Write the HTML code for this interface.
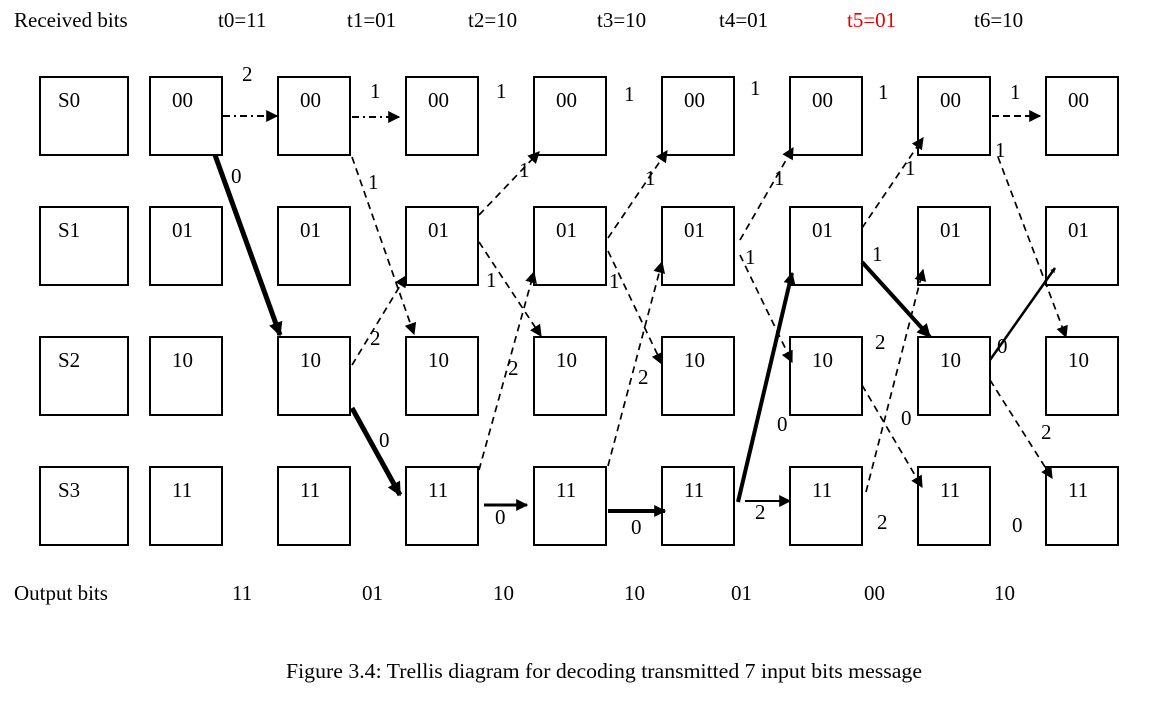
<!DOCTYPE html>
<html><head><meta charset="utf-8"><style>
html,body{margin:0;padding:0;background:#fff;}
svg{display:block;font-family:"Liberation Serif",serif;}
text{font-size:21px;fill:#000;}
</style></head><body>
<svg width="1167" height="723" viewBox="0 0 1167 723" xmlns="http://www.w3.org/2000/svg">
<defs>
<marker id="a" viewBox="0 0 10 10" refX="9" refY="5" markerWidth="5" markerHeight="5" orient="auto" markerUnits="userSpaceOnUse"><path d="M0,0L10,5L0,10z" fill="#000"/></marker>
<marker id="ab" viewBox="0 0 10 10" refX="9" refY="5" markerWidth="14" markerHeight="14" orient="auto" markerUnits="userSpaceOnUse"><path d="M0,0L10,5L0,10z" fill="#000"/></marker>
<marker id="am" viewBox="0 0 10 10" refX="9" refY="5" markerWidth="12" markerHeight="12" orient="auto" markerUnits="userSpaceOnUse"><path d="M0,0L10,5L0,10z" fill="#000"/></marker>
</defs>
<text x="14" y="27">Received bits</text>
<text x="218" y="27">t0=11</text>
<text x="347" y="27">t1=01</text>
<text x="468" y="27">t2=10</text>
<text x="597" y="27">t3=10</text>
<text x="719" y="27">t4=01</text>
<text x="847" y="27" style="fill:#e00">t5=01</text>
<text x="974" y="27">t6=10</text>

<g fill="none" stroke="#000" stroke-width="2">
<rect x="40" y="77" width="88" height="78"/><rect x="40" y="207" width="88" height="78"/><rect x="40" y="337" width="88" height="78"/><rect x="40" y="467" width="88" height="78"/>
</g>
<text x="58" y="107">S0</text><text x="58" y="237">S1</text><text x="58" y="367">S2</text><text x="58" y="497">S3</text>

<g fill="none" stroke="#000" stroke-width="2">
<rect x="150" y="77" width="72" height="78"/><rect x="150" y="207" width="72" height="78"/><rect x="150" y="337" width="72" height="78"/><rect x="150" y="467" width="72" height="78"/>
<rect x="278" y="77" width="72" height="78"/><rect x="278" y="207" width="72" height="78"/><rect x="278" y="337" width="72" height="78"/><rect x="278" y="467" width="72" height="78"/>
<rect x="406" y="77" width="72" height="78"/><rect x="406" y="207" width="72" height="78"/><rect x="406" y="337" width="72" height="78"/><rect x="406" y="467" width="72" height="78"/>
<rect x="534" y="77" width="72" height="78"/><rect x="534" y="207" width="72" height="78"/><rect x="534" y="337" width="72" height="78"/><rect x="534" y="467" width="72" height="78"/>
<rect x="662" y="77" width="72" height="78"/><rect x="662" y="207" width="72" height="78"/><rect x="662" y="337" width="72" height="78"/><rect x="662" y="467" width="72" height="78"/>
<rect x="790" y="77" width="72" height="78"/><rect x="790" y="207" width="72" height="78"/><rect x="790" y="337" width="72" height="78"/><rect x="790" y="467" width="72" height="78"/>
<rect x="918" y="77" width="72" height="78"/><rect x="918" y="207" width="72" height="78"/><rect x="918" y="337" width="72" height="78"/><rect x="918" y="467" width="72" height="78"/>
<rect x="1046" y="77" width="72" height="78"/><rect x="1046" y="207" width="72" height="78"/><rect x="1046" y="337" width="72" height="78"/><rect x="1046" y="467" width="72" height="78"/>
</g>
<g>
<text x="172" y="107">00</text><text x="172" y="237">01</text><text x="172" y="367">10</text><text x="172" y="497">11</text>
<text x="300" y="107">00</text><text x="300" y="237">01</text><text x="300" y="367">10</text><text x="300" y="497">11</text>
<text x="428" y="107">00</text><text x="428" y="237">01</text><text x="428" y="367">10</text><text x="428" y="497">11</text>
<text x="556" y="107">00</text><text x="556" y="237">01</text><text x="556" y="367">10</text><text x="556" y="497">11</text>
<text x="684" y="107">00</text><text x="684" y="237">01</text><text x="684" y="367">10</text><text x="684" y="497">11</text>
<text x="812" y="107">00</text><text x="812" y="237">01</text><text x="812" y="367">10</text><text x="812" y="497">11</text>
<text x="940" y="107">00</text><text x="940" y="237">01</text><text x="940" y="367">10</text><text x="940" y="497">11</text>
<text x="1068" y="107">00</text><text x="1068" y="237">01</text><text x="1068" y="367">10</text><text x="1068" y="497">11</text>
</g>

<g stroke="#000" stroke-width="2" fill="none">
<line x1="223" y1="116" x2="277" y2="116" stroke-dasharray="7,4,2,4" marker-end="url(#am)"/>
<line x1="352" y1="117" x2="399" y2="117" stroke-dasharray="7,4,2,4" marker-end="url(#am)"/>
<line x1="992" y1="116" x2="1040" y2="116" stroke-dasharray="7,4" marker-end="url(#am)"/>
</g>
<g stroke="#000" stroke-width="1.7" fill="none" stroke-dasharray="7,5" marker-end="url(#am)">
<line x1="352" y1="157" x2="414" y2="334"/>
<line x1="352" y1="365" x2="406" y2="276"/>
<line x1="479" y1="215" x2="539" y2="152"/>
<line x1="479" y1="242" x2="541" y2="336"/>
<line x1="479" y1="470" x2="534" y2="272"/>
<line x1="608" y1="238" x2="667" y2="151"/>
<line x1="608" y1="251" x2="662" y2="364"/>
<line x1="608" y1="466" x2="662" y2="262"/>
<line x1="740" y1="240" x2="793" y2="148"/>
<line x1="740" y1="255" x2="792" y2="362"/>
<line x1="862" y1="228" x2="923" y2="138"/>
<line x1="866" y1="492" x2="923" y2="270"/>
<line x1="862" y1="385" x2="922" y2="487"/>
<line x1="998" y1="157" x2="1066" y2="337"/>
<line x1="990" y1="380" x2="1052" y2="478"/>
</g>
<g stroke="#000" fill="none">
<line x1="215" y1="155" x2="280" y2="335" stroke-width="5" marker-end="url(#ab)"/>
<line x1="352" y1="408" x2="400" y2="495" stroke-width="5" marker-end="url(#ab)"/>
<line x1="484" y1="505" x2="527" y2="505" stroke-width="3" marker-end="url(#am)"/>
<line x1="608" y1="511" x2="665" y2="511" stroke-width="4" marker-end="url(#am)"/>
<line x1="738" y1="502" x2="792" y2="273" stroke-width="4" marker-end="url(#am)"/>
<line x1="745" y1="501" x2="790" y2="501" stroke-width="2" marker-end="url(#am)"/>
<line x1="862" y1="262" x2="930" y2="337" stroke-width="4" marker-end="url(#ab)"/>
<line x1="990" y1="360" x2="1055" y2="268" stroke-width="2.5" marker-end="url(#a)"/>
</g>

<g>
<text x="242" y="81">2</text><text x="231" y="183">0</text>
<text x="370" y="98">1</text><text x="368" y="189">1</text><text x="370" y="345">2</text><text x="379" y="447">0</text>
<text x="496" y="98">1</text><text x="519" y="177">1</text><text x="486" y="287">1</text><text x="508" y="375">2</text><text x="495" y="524">0</text>
<text x="624" y="101">1</text><text x="645" y="185">1</text><text x="609" y="288">1</text><text x="638" y="384">2</text><text x="631" y="534">0</text>
<text x="750" y="95">1</text><text x="774" y="185">1</text><text x="745" y="264">1</text><text x="777" y="431">0</text><text x="755" y="519">2</text>
<text x="878" y="99">1</text><text x="905" y="175">1</text><text x="872" y="261">1</text><text x="875" y="349">2</text><text x="901" y="425">0</text><text x="877" y="529">2</text>
<text x="1010" y="99">1</text><text x="995" y="157">1</text><text x="997" y="353">0</text><text x="1041" y="439">2</text><text x="1012" y="532">0</text>
</g>

<text x="14" y="600">Output bits</text>
<text x="232" y="600">11</text><text x="362" y="600">01</text><text x="493" y="600">10</text><text x="624" y="600">10</text><text x="731" y="600">01</text><text x="864" y="600">00</text><text x="994" y="600">10</text>
<text x="286" y="678" textLength="636" lengthAdjust="spacingAndGlyphs">Figure 3.4: Trellis diagram for decoding transmitted 7 input bits message</text>
</svg>
</body></html>
